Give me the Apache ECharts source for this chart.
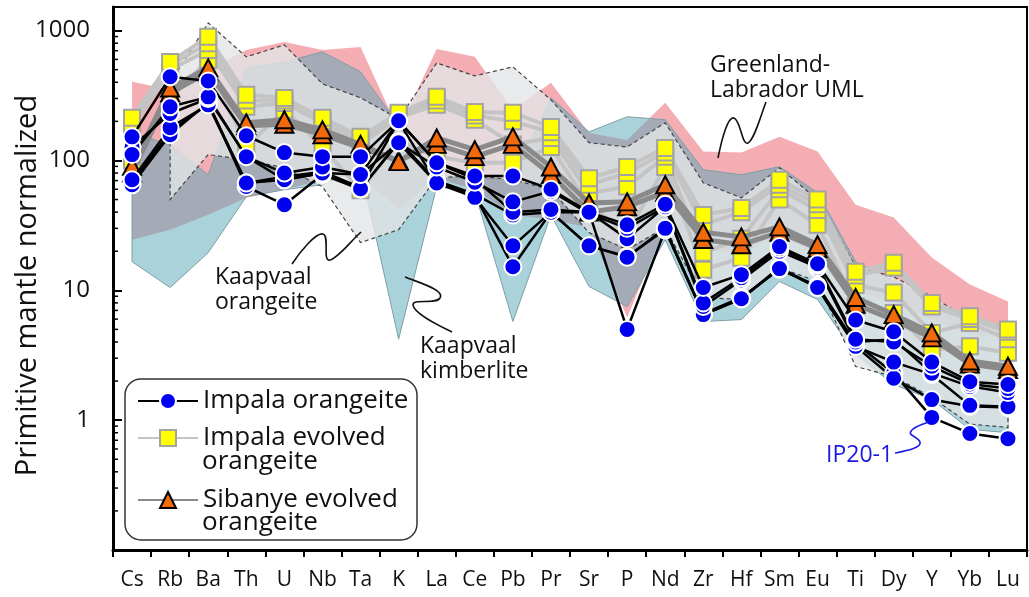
<!DOCTYPE html>
<html><head><meta charset="utf-8">
<script src="https://cdn.jsdelivr.net/npm/echarts@6/dist/echarts.min.js"></script>
<style>html,body{margin:0;padding:0;background:#fff}#c{width:1029px;height:597px}</style>
</head><body><div id="c"></div>
<script>
// ---- categories ----
const elements = ['Cs','Rb','Ba','Th','U','Nb','Ta','K','La','Ce','Pb','Pr','Sr','P','Nd','Zr','Hf','Sm','Eu','Ti','Dy','Y','Yb','Lu'];

// ---- Impala orangeite (blue circles) ----
const impala1 = [152,441,410,155,115,107,107,202,96,76,76,60,40,32,46,10.5,13.2,21.7,16,5.9,4.8,2.8,1.98,1.88];
const impala2 = [111,259,309,107,80,89,78,137,89,68,48,58,39,30,44,8.0,12.5,21,15.5,4.2,4.0,2.6,1.9,1.75];
const impala3 = [127,230,300,107,71,80,78,202,96,72,40,42,40,25,44,7.5,12,20,15,4.0,4.2,2.3,1.82,1.63];
const impala4 = [71,179,268,67,71,80,60.6,137,67,52,22,40,22,18,30,6.5,8.6,14.7,10.5,3.7,2.8,2.25,1.3,1.27];
const impala5 = [65,158,280,63,45.6,78,60,140,70,55,38,40,22,18.2,29.3,6.5,8.6,15,10.5,3.7,2.1,1.44,1.28,1.25];
const impalaIP20_1 = [68,165,275,67,75,82,62,200,67,54,15.2,40,40,5.0,29.3,6.6,8.8,14.5,10.8,3.9,2.3,1.05,0.79,0.72];

// ---- Impala evolved orangeite (yellow squares) ----
const evolved1 = [213,574,895,320,303,213,152,233,309,236,233,181,73,89,125,38,43,71,50,13.9,16.3,8.0,6.3,5.0];
const evolved2 = [195,540,800,290,290,200,145,225,290,222,200,165,65,80,115,32,40,65,46,13,15,7.5,6.0,4.8];
const evolved3 = [179,499,710,259,277,195,133,215,268,206,133,149,56,63,107,19.5,25,60,41.5,11,9.6,4.7,5.6,4.2];
const evolved4 = [100,300,595,127,246,127,59,140,107,96,96,127,45,27.7,89,14.4,17.8,50,32,7.5,6.7,3.5,3.7,3.3];

// ---- Sibanye evolved orangeite (orange triangles) ----
const sibanye1 = [90,361,517,195,206,172,133,98,149,121,152,89,47,48,65,28,25.8,30.8,22.5,8.8,6.5,4.7,2.85,2.6];
const sibanye2 = [80,330,480,185,190,158,125,100,133,107,133,78,40,44,57,24.6,22.4,28,21,7.8,5.9,4.3,2.7,2.45];

// ---- reference fields (upper / lower envelopes) ----
const greenlandUpper = [403,350,499,710,818,710,748,172,723,628,245,396,163,144,278,117,115,152,117,45.6,36.3,17.9,11.1,8.2];
const greenlandLower = [24.5,29.3,38.2,51.6,59.5,71.1,77.6,41.8,73.6,59.5,38.2,35,30.4,6.2,30.4,20.6,18.8,26.8,18.8,10.1,7.8,5.95,4.6,4.2];
const kimberliteUpper = [163,132,77.6,517,574,686,481,188,77.6,73.6,71.1,304,166,217,206,84.8,77.6,89.5,56.4,16.6,11.7,8.5,5.75,4.99];
const kimberliteLower = [16.6,10.5,19.5,52.6,59.5,65,87.9,4.2,62.8,57.4,5.75,38,10.7,7.5,24.5,5.75,5.95,11.7,8.5,3.2,1.88,1.44,0.85,0.80];
const orangeiteUpper = [null,396,1146,628,776,389,304,209,564,448,526,293,137,127,195,67.3,51.6,87.9,49.9,15.2,12.7,8.95,5.95,5.26];
const orangeiteLower = [null,50,111,101,87.9,62.8,23.3,29.3,73.6,76.2,71.1,59.5,27.8,20.6,30.4,8.79,8.5,14.9,11.7,2.59,2.17,1.5,0.93,0.88];

// ---- axis ----
const yMin = 0.1, yMax = 1520;
const majorTickLabels = [1, 10, 100, 1000];
const minorTickValues = [0.2,0.3,0.4,0.5,0.6,0.7,0.8,0.9,2,3,4,5,6,7,8,9,20,30,40,50,60,70,80,90,200,300,400,500,600,700,800,900];

const FONT = 'Open Sans';

function bandPolygon(upper, lower, style, z) {
  return {
    type: 'custom', coordinateSystem: 'cartesian2d', silent: true, z: z,
    data: [[0, 1]],
    renderItem: function (params, api) {
      const pts = [];
      for (let i = 0; i < upper.length; i++) if (upper[i] != null) pts.push(api.coord([i, upper[i]]));
      for (let i = lower.length - 1; i >= 0; i--) if (lower[i] != null) pts.push(api.coord([i, lower[i]]));
      return { type: 'polygon', shape: { points: pts }, style: style };
    }
  };
}

function sampleSeries(name, data, kind) {
  const base = { type: 'line', name: name, data: data, silent: true, emphasis: { disabled: true } };
  if (kind === 'blue') {
    return Object.assign(base, { z: 7, symbol: 'circle', symbolSize: 17,
      itemStyle: { color: '#0000f0', borderColor: '#ffffff', borderWidth: 2 },
      lineStyle: { color: '#000', width: 2.5 } });
  } else if (kind === 'yellow') {
    return Object.assign(base, { z: 5, symbol: 'rect', symbolSize: 16,
      itemStyle: { color: '#ffff00', borderColor: '#a3a3a3', borderWidth: 2 },
      lineStyle: { color: '#c4c4c4', width: 4 } });
  } else {
    return Object.assign(base, { z: 6, symbol: 'triangle', symbolSize: [18, 17],
      itemStyle: { color: '#f26a0c', borderColor: '#000', borderWidth: 2 },
      lineStyle: { color: '#8a8a8a', width: 5 } });
  }
}

const series = [
  bandPolygon(greenlandUpper, greenlandLower, { fill: '#f4adb2' }, 1),
  bandPolygon(kimberliteUpper, kimberliteLower, { fill: 'rgba(92,168,186,0.52)', stroke: '#7e9ea6', lineWidth: 1 }, 2),
  bandPolygon(orangeiteUpper, orangeiteLower, { fill: 'rgba(226,229,230,0.8)' }, 3),
  bandPolygon(orangeiteUpper, orangeiteLower, { fill: 'none', stroke: '#444', lineWidth: 1.2, lineDash: [4, 3] }, 4),
];
[evolved4, evolved3, evolved2, evolved1].forEach(d => series.push(sampleSeries('Impala evolved orangeite', d, 'yellow')));
[sibanye2, sibanye1].forEach(d => series.push(sampleSeries('Sibanye evolved orangeite', d, 'orange')));
[impalaIP20_1, impala5, impala4, impala3, impala2, impala1].forEach(d => series.push(sampleSeries('Impala orangeite', d, 'blue')));
series.push({
  type: 'custom', coordinateSystem: 'cartesian2d', silent: true, z: 9, clip: false,
  data: minorTickValues.map(v => [0, v]),
  renderItem: function (params, api) {
    const y = api.coord([0, api.value(1)])[1];
    const x0 = params.coordSys.x;
    return { type: 'line', shape: { x1: x0, y1: y, x2: x0 + 5, y2: y }, style: { stroke: '#000', lineWidth: 1.5 } };
  }
});

const legendCommon = { orient: 'vertical', itemWidth: 60, itemHeight: 20, itemGap: 0, padding: 0, z: 10,
  selectedMode: false, textStyle: { fontSize: 26, fontFamily: FONT, color: '#111', lineHeight: 20 } };

const txt = (t, x, y, extra) => ({ type: 'text', x: x, y: y, z: 20,
  style: Object.assign({ text: t, fontSize: 23, fontFamily: FONT, fill: '#111', align: 'left', verticalAlign: 'middle' }, extra || {}) });
// a squiggle leader made of cubic Bezier pieces: [x0,y0, c1x,c1y, c2x,c2y, x1,y1, ...]
function squiggle(p, color) {
  const out = [];
  for (let i = 0; i + 7 < p.length; i += 6) {
    out.push({ type: 'bezierCurve', z: 20,
      shape: { x1: p[i], y1: p[i+1], cpx1: p[i+2], cpy1: p[i+3], cpx2: p[i+4], cpy2: p[i+5], x2: p[i+6], y2: p[i+7] },
      style: { fill: 'none', stroke: color || '#111', lineWidth: 1.6 } });
  }
  return out;
}

const option = {
  animation: false,
  textStyle: { fontFamily: FONT },
  grid: { left: 113, right: 2, top: 7, bottom: 47, show: true, borderColor: '#000', borderWidth: 2,
    backgroundColor: 'transparent', containLabel: false, outerBoundsMode: 'none' },
  xAxis: {
    type: 'category', data: elements, boundaryGap: true,
    axisLine: { lineStyle: { color: '#000', width: 3 } },
    axisTick: { show: true, inside: false, length: 7, lineStyle: { color: '#000', width: 2 } },
    axisLabel: { fontSize: 21, color: '#111', margin: 20, interval: 0, fontFamily: FONT },
    splitLine: { show: false }
  },
  yAxis: {
    type: 'log', logBase: 10, min: yMin, max: yMax,
    axisLine: { show: true, lineStyle: { color: '#000', width: 3 } },
    axisTick: { show: true, inside: true, length: 9, lineStyle: { color: '#000', width: 2 } },
    axisLabel: { fontSize: 24, color: '#111', margin: 23, fontFamily: FONT, showMaxLabel: false, showMinLabel: false,
      formatter: function (v) {
        for (const m of majorTickLabels) if (Math.abs(v - m) / m < 1e-6) return String(m);
        return '';
      } },
    splitLine: { show: false },
    name: 'Primitive mantle normalized', nameLocation: 'middle', nameGap: 71, nameMoveOverlap: false,
    nameTextStyle: { fontSize: 29, color: '#111', fontFamily: FONT, padding: [0, 14, 0, 0] }
  },
  legend: [
    Object.assign({ data: ['Impala orangeite'], left: 137, top: 388 }, legendCommon),
    Object.assign({ data: ['Impala evolved orangeite'], left: 137, top: 425, formatter: () => 'Impala evolved' }, legendCommon),
    Object.assign({ data: ['Sibanye evolved orangeite'], left: 137, top: 487, formatter: () => 'Sibanye evolved' }, legendCommon)
  ],
  graphic: [
    { type: 'rect', z: 9, shape: { x: 125, y: 379, width: 292, height: 161, r: 16 }, style: { fill: '#fff', stroke: '#333', lineWidth: 1.5 } },
    txt('orangeite', 202, 462, { fontSize: 26 }),
    txt('orangeite', 202, 523, { fontSize: 26 }),
    txt('Greenland-', 710, 65),
    txt('Labrador UML', 710, 90),
    txt('Kaapvaal', 215, 277),
    txt('orangeite', 215, 302),
    txt('Kaapvaal', 420, 346),
    txt('kimberlite', 420, 371),
    txt('IP20-1', 826, 455, { fill: '#1a1ae6' })
  ].concat(
    squiggle([718,158, 722,138, 728,116, 734,118, 741,121, 742,146, 748,143, 754,140, 760,118, 766,102]),
    squiggle([292,264, 300,252, 316,232, 323,234, 330,236, 322,262, 330,260, 338,258, 350,242, 361,232]),
    squiggle([405,277, 420,283, 445,290, 440,298, 436,305, 412,298, 413,305, 414,314, 440,326, 452,332]),
    squiggle([895,453, 905,451, 922,448, 920,442, 918,436, 906,436, 912,430, 916,426, 922,425, 928,422], '#1a1ae6')
  ),
  series: series
};

const chart = echarts.init(document.getElementById('c'), null, { renderer: 'canvas' });
chart.setOption(option);
</script>
</body></html>
